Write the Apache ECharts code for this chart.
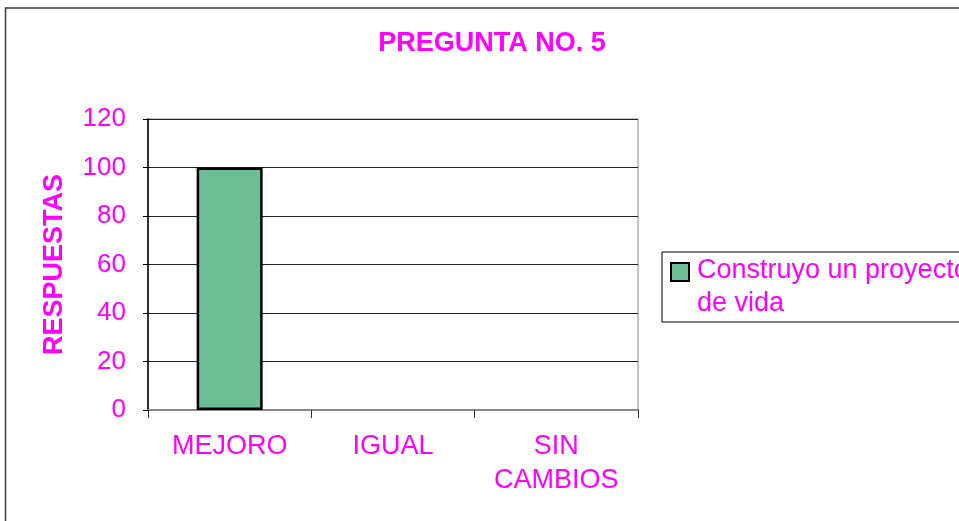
<!DOCTYPE html>
<html>
<head>
<meta charset="utf-8">
<script src="https://cdn.jsdelivr.net/npm/echarts@6/dist/echarts.min.js"></script>
<style>
  html, body { margin: 0; padding: 0; background: #fff; }
  #chart { width: 959px; height: 521px; }
</style>
</head>
<body>
<div id="chart"></div>
<script>
// datos de la pregunta 5
const categories = ['MEJORO', 'IGUAL', 'SIN\nCAMBIOS']
const seriesName = 'Construyo un proyecto\nde vida'
const values = [100, 0, 0]
const yTicks = { min: 0, max: 120, interval: 20 }

const magenta = '#ff00ff'
const font = 'Liberation Sans, Arial, sans-serif'

let chart = echarts.init(document.getElementById('chart'))
chart.setOption({
  animation: false,
  textStyle: { fontFamily: font },
  title: {
    text: 'PREGUNTA NO. 5',
    left: 492,
    top: 30,
    textAlign: 'center',
    padding: 0,
    textStyle: { color: magenta, fontSize: 27, fontWeight: 'bold', fontFamily: font }
  },
  graphic: [{
    type: 'rect',
    shape: { x: 5.5, y: 8, width: 1000, height: 600 },
    style: { fill: 'none', stroke: '#3a3a3a', lineWidth: 1.5 },
    silent: true
  }],
  legend: {
    left: 662,
    top: 252,
    orient: 'vertical',
    padding: [2, 20, 2, 8],
    borderColor: '#000',
    borderWidth: 1,
    itemWidth: 21,
    itemHeight: 48,
    // cuadro arriba, alineado con la primera linea
    icon: 'path://M0,0L18,0L18,18L0,18Z M21,48',
    itemStyle: { borderColor: '#000', borderWidth: 2 },
    textStyle: { color: magenta, fontSize: 27, lineHeight: 33, fontFamily: font }
  },
  grid: {
    left: 148, right: 321, top: 119, bottom: 111,
    show: true, borderColor: '#888', borderWidth: 1
  },
  xAxis: {
    type: 'category',
    data: categories,
    axisLine: { lineStyle: { color: '#888', width: 2 } },
    axisTick: { show: true, length: 8, lineStyle: { color: '#333' } },
    axisLabel: { color: magenta, fontSize: 27, lineHeight: 34, margin: 20, interval: 0, fontFamily: font }
  },
  yAxis: {
    type: 'value',
    min: yTicks.min, max: yTicks.max, interval: yTicks.interval,
    name: 'RESPUESTAS',
    nameLocation: 'middle',
    nameRotate: 90,
    nameGap: 80,
    nameTextStyle: { color: magenta, fontSize: 27, fontWeight: 'bold', fontFamily: font },
    axisLine: { show: true, lineStyle: { color: '#000', width: 1.5 } },
    axisTick: { show: true, length: 5, lineStyle: { color: '#000' } },
    axisLabel: { color: magenta, fontSize: 26, margin: 22, fontFamily: font },
    splitLine: { lineStyle: { color: '#222', width: 1 } }
  },
  series: [{
    name: seriesName,
    type: 'bar',
    barWidth: 66,
    data: values.map(v => v === 0 ? { value: v, itemStyle: { borderWidth: 0 } } : v),
    itemStyle: {
      color: '#6dbe95',
      borderColor: '#000',
      borderWidth: 2.5
    }
  }]
})
</script>
</body>
</html>
